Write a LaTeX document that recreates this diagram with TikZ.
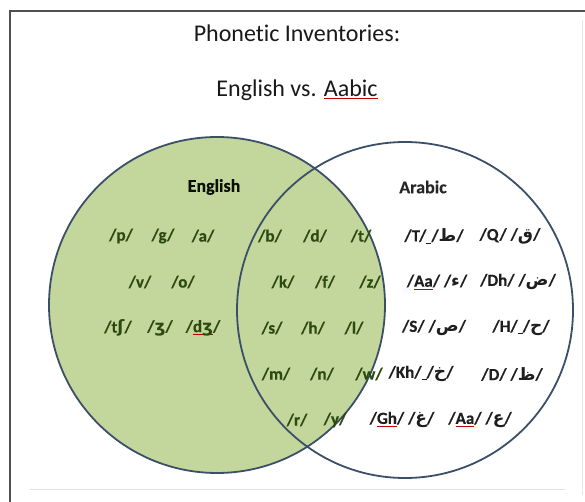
\documentclass[tikz,border=0pt]{standalone}
\usepackage{fontspec}
\setmainfont{Carlito}[Ligatures=NoCommon, BoldFeatures={FakeBold=0.3}]
\newfontfamily\arabicfont[Script=Arabic]{DejaVu Sans}
\newfontfamily\ipafont{DejaVu Sans}
\TeXXeTstate=1
\newsavebox\wavebox
\newcommand\redwave[1]{\sbox\wavebox{#1}\rlap{\textcolor{red!75!black}{\rule[-2.6pt]{\wd\wavebox}{0.6pt}}}\usebox\wavebox}
\newcommand\darkul[1]{\sbox\wavebox{#1}\rlap{\rule[-2.2pt]{\wd\wavebox}{0.8pt}}\usebox\wavebox}
\newcommand\ar[1]{{\arabicfont\beginR #1\endR}}
\newcommand\ipa[1]{{\ipafont #1}}
\definecolor{venngreen}{HTML}{C3D69B}
\definecolor{vennline}{HTML}{3B5068}
\definecolor{engtext}{HTML}{2C4A10}
\definecolor{artext}{HTML}{1E1E1E}
\definecolor{frameline}{HTML}{505050}
\tikzset{
  titletext/.style={font=\fontsize{24}{24}\selectfont, text=black!90, inner sep=0pt},
  headtext/.style={font=\bfseries\fontsize{18}{18}\selectfont, inner sep=0pt},
  engph/.style={font=\bfseries\fontsize{17}{17}\selectfont, text=engtext, inner sep=0pt},
  arph/.style={font=\bfseries\fontsize{17}{17}\selectfont, text=artext, inner sep=0pt},
  vennedge/.style={draw=vennline, line width=1.8pt},
}
\begin{document}
\begin{tikzpicture}[x=1pt,y=-1pt]
\useasboundingbox (0,0) rectangle (585,502);
\fill[white] (0,0) rectangle (585,502);
% frame
\draw[frameline, line width=2pt] (10,502) -- (10,11) -- (585,11);
\draw[black!12, line width=1pt] (30,489) -- (565,489);
\draw[black!10, line width=1pt] (582,20) -- (582,495);
% circles
\fill[venngreen] (217,305) circle (168);
\draw[vennedge] (217,305) circle (168);
\draw[vennedge] (405,310) circle (168);
% titles
\node[titletext] (t1) at (297,33) {Phonetic Inventories:};
\node[titletext] (t2) at (297,90) {English vs. \redwave{Aabic}};
\node[headtext, text=black!80!engtext] (heng) at (214,187) {English};
\node[headtext, text=black!85] (hara) at (423,187) {Arabic};
% English only
\node[engph] (p) at (121,236) {/p/};
\node[engph] (g) at (163,236) {/g/};
\node[engph] (a) at (203,236) {/a/};
\node[engph] (v) at (140,282) {/v/};
\node[engph] (o) at (183,282) {/o/};
\node[engph] (tsh) at (118,328) {/t\ipa{ʃ}/};
\node[engph] (zh) at (160,328) {/\ipa{ʒ}/};
\node[engph] (dzh) at (203,328) {/\redwave{d\ipa{ʒ}}/};
% shared
\node[engph] (b) at (270,236) {/b/};
\node[engph] (d) at (315,236) {/d/};
\node[engph] (t) at (361,236) {/t/};
\node[engph] (k) at (283,282) {/k/};
\node[engph] (f) at (325,282) {/f/};
\node[engph] (z) at (370,282) {/z/};
\node[engph] (s) at (272,328) {/s/};
\node[engph] (h) at (313,328) {/h/};
\node[engph] (l) at (354,328) {/l/};
\node[engph] (m) at (276,374) {/m/};
\node[engph] (n) at (322,374) {/n/};
\node[engph] (w) at (369,374) {/w/};
\node[engph] (r) at (297,420) {/r/};
\node[engph] (y) at (335,420) {/y/};
% Arabic only
\node[arph] (T) at (434,236) {/T/\darkul{\hspace{5pt}}/\ar{ط}/};
\node[arph] (Q) at (510,236) {/Q/ /\ar{ق}/};
\node[arph] (Aa1) at (437,282) {/\redwave{Aa}/ /\ar{ء}/};
\node[arph] (Dh) at (518,282) {/Dh/ /\ar{ض}/};
\node[arph] (S) at (434,328) {/S/ /\ar{ص}/};
\node[arph] (H) at (521,328) {/H/\darkul{\hspace{5pt}}/\ar{ح}/};
\node[arph] (Kh) at (421,374) {/Kh/\darkul{\hspace{5pt}}/\ar{خ}/};
\node[arph] (D) at (512,374) {/D/ /\ar{ظ}/};
\node[arph] (Gh) at (402,420) {/\redwave{Gh}/ /\ar{غ}/};
\node[arph] (Aa2) at (480,420) {/\redwave{Aa}/ /\ar{ع}/};
\end{tikzpicture}
\end{document}
